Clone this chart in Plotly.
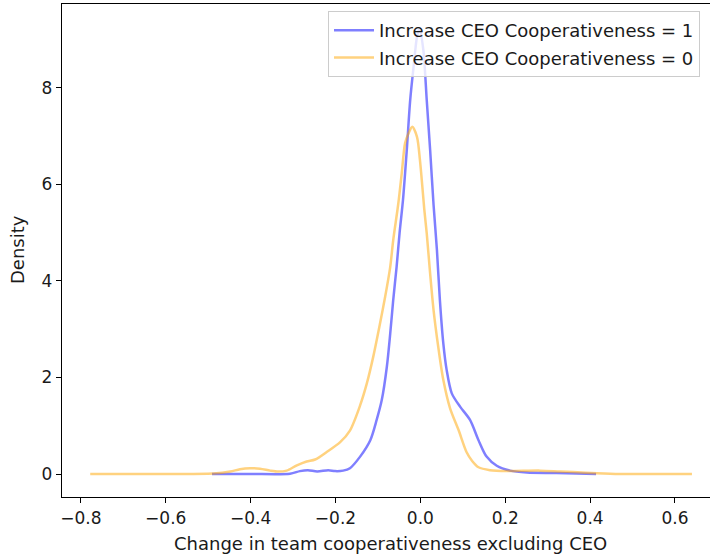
import plotly.graph_objects as go

# Increase CEO Cooperativeness = 1 (blue)
x1 = [-0.491, -0.401, -0.307, -0.284, -0.265, -0.243, -0.217, -0.201, -0.182, -0.166,
      -0.142, -0.118, -0.103, -0.091, -0.079, -0.071, -0.064, -0.056, -0.049, -0.041,
      -0.032, -0.024, -0.016, -0.008, -0.002, 0.007, 0.015, 0.023, 0.031, 0.039,
      0.046, 0.054, 0.062, 0.074, 0.094, 0.117, 0.137, 0.156, 0.180, 0.211,
      0.251, 0.321, 0.414]
y1 = [0.0, 0.0, 0.005, 0.06, 0.08, 0.05, 0.08, 0.06, 0.07, 0.12,
      0.36, 0.70, 1.12, 1.53, 2.22, 2.91, 3.60, 4.29, 4.99, 5.67,
      6.71, 7.74, 8.43, 9.05, 9.22, 8.78, 7.74, 6.71, 5.58, 4.64,
      3.60, 2.71, 2.15, 1.67, 1.39, 1.12, 0.70, 0.36, 0.17, 0.07,
      0.03, 0.02, 0.0]

# Increase CEO Cooperativeness = 0 (orange)
x0 = [-0.778, -0.637, -0.488, -0.448, -0.425, -0.401, -0.378, -0.354, -0.335, -0.315,
      -0.291, -0.268, -0.248, -0.220, -0.189, -0.166, -0.142, -0.126, -0.111, -0.095,
      -0.083, -0.071, -0.064, -0.052, -0.044, -0.036, -0.028, -0.019, -0.008, -0.001,
      0.006, 0.009, 0.015, 0.023, 0.031, 0.042, 0.054, 0.070, 0.090, 0.109,
      0.122, 0.137, 0.164, 0.204, 0.282, 0.329, 0.360, 0.416, 0.470, 0.640]
y0 = [0.0, 0.0, 0.01, 0.05, 0.10, 0.12, 0.11, 0.07, 0.05, 0.07,
      0.18, 0.26, 0.30, 0.46, 0.66, 0.90, 1.42, 1.88, 2.43, 3.12,
      3.67, 4.29, 4.84, 5.60, 6.22, 6.85, 7.05, 7.19, 6.98, 6.50,
      5.81, 5.50, 4.98, 4.15, 3.40, 2.64, 1.95, 1.36, 0.91, 0.45,
      0.27, 0.14, 0.08, 0.06, 0.07, 0.05, 0.04, 0.015, 0.0, 0.0]

x_ticks = [-0.8, -0.6, -0.4, -0.2, 0.0, 0.2, 0.4, 0.6]
x_tick_labels = ["\u22120.8", "\u22120.6", "\u22120.4", "\u22120.2", "0.0", "0.2", "0.4", "0.6"]
y_ticks = [0, 2, 4, 6, 8]
y_tick_labels = ["0", "2", "4", "6", "8"]

FONT = "DejaVu Sans"
TXT = "#1a1a1a"
fig = go.Figure()
fig.add_trace(go.Scatter(x=x1, y=y1, mode="lines", name="Increase CEO Cooperativeness = 1",
                         line=dict(color="rgba(0,0,255,0.5)", width=2.5, shape="spline", smoothing=0.8),
                         legendgroup="a"))
fig.add_trace(go.Scatter(x=x0, y=y0, mode="lines", name="Increase CEO Cooperativeness = 0",
                         line=dict(color="rgba(255,165,0,0.5)", width=2.5, shape="spline", smoothing=0.8),
                         legendgroup="b"))

fig.update_layout(
    width=710, height=556,
    margin=dict(l=62, r=0, t=4, b=59),
    paper_bgcolor="white", plot_bgcolor="white",
    font=dict(family=FONT, size=18, color=TXT),
    showlegend=True,
    legend=dict(x=(328 - 62) / 648, y=(497 - 11) / 493, xanchor="left", yanchor="top",
                bgcolor="rgba(255,255,255,0.8)", bordercolor="#cccccc", borderwidth=1,
                font=dict(family=FONT, size=18, color=TXT),
                traceorder="grouped", tracegroupgap=1, itemwidth=40),
    xaxis=dict(range=[-0.8445, 0.6825], tickmode="array", tickvals=x_ticks, ticktext=x_tick_labels,
               showgrid=False, zeroline=False, showline=True, linecolor="black", linewidth=1.3,
               mirror=True, ticks="outside", ticklen=5, tickwidth=1.3, tickcolor="black",
               tickfont=dict(family=FONT, size=17, color=TXT)),
    yaxis=dict(range=[-0.476, 9.731], tickmode="array", tickvals=y_ticks, ticktext=y_tick_labels,
               showgrid=False, zeroline=False, showline=True, linecolor="black", linewidth=1.3,
               mirror=False, ticks="outside", ticklen=5, tickwidth=1.3, tickcolor="black",
               tickfont=dict(family=FONT, size=17, color=TXT)),
    annotations=[
        dict(text="Change in team cooperativeness excluding CEO", xref="paper", yref="paper",
             x=(390 - 62) / 648, y=-(543 - 497) / 493, xanchor="center", yanchor="middle",
             showarrow=False, font=dict(family=FONT, size=18, color=TXT)),
        dict(text="Density", xref="paper", yref="paper", x=(18 - 62) / 648, y=(497 - 250) / 493,
             xanchor="center", yanchor="middle", textangle=-90, showarrow=False,
             font=dict(family=FONT, size=18, color=TXT)),
    ],
)

fig.write_html("out.html", config={"displayModeBar": False},
               post_script="document.body.style.margin='0px';document.body.style.overflow='hidden';")
